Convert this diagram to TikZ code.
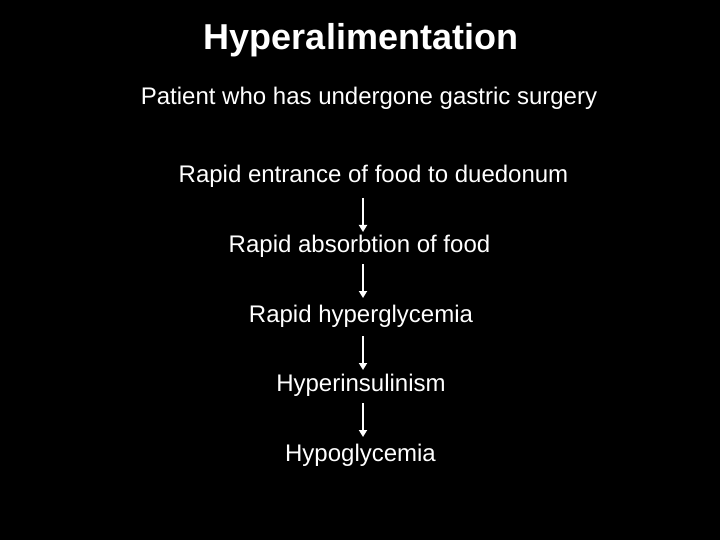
\documentclass[tikz,border=0pt]{standalone}
\usepackage{fontspec}
\setmainfont{Liberation Sans}
\usetikzlibrary{arrows.meta}
\begin{document}
\begin{tikzpicture}[x=1pt,y=-1pt,
  lbl/.style={text=white,font=\fontsize{24}{28}\selectfont,anchor=base,inner sep=0pt},
  ttl/.style={text=white,font=\fontsize{36}{40}\selectfont\bfseries,anchor=base,inner sep=0pt},
  flow/.style={draw=white,line width=2.6pt,-{Triangle[width=8pt,length=7pt]}}]
\fill[black] (0,0) rectangle (720,540);
\useasboundingbox (0,0) rectangle (720,540);
\node[ttl] (title) at (361,49.5) {Hyperalimentation};
\node[lbl] (patient) at (369,105) {Patient who has undergone gastric surgery};
\node[lbl] (entr) at (373.5,182.5) {Rapid entrance of food to duedonum};
\node[lbl] (abs) at (359.5,252) {Rapid absorbtion of food};
\node[lbl] (hyperg) at (361,322) {Rapid hyperglycemia};
\node[lbl] (hyperi) at (361,391.5) {Hyperinsulinism};
\node[lbl] (hypog) at (360.5,461) {Hypoglycemia};
\coordinate (a1s) at (363,198); \coordinate (a1e) at (363,232);
\coordinate (a2s) at (363,264); \coordinate (a2e) at (363,298);
\coordinate (a3s) at (363,336); \coordinate (a3e) at (363,370);
\coordinate (a4s) at (363,403); \coordinate (a4e) at (363,437);
\draw[flow] (a1s) -- (a1e);
\draw[flow] (a2s) -- (a2e);
\draw[flow] (a3s) -- (a3e);
\draw[flow] (a4s) -- (a4e);
\end{tikzpicture}
\end{document}
